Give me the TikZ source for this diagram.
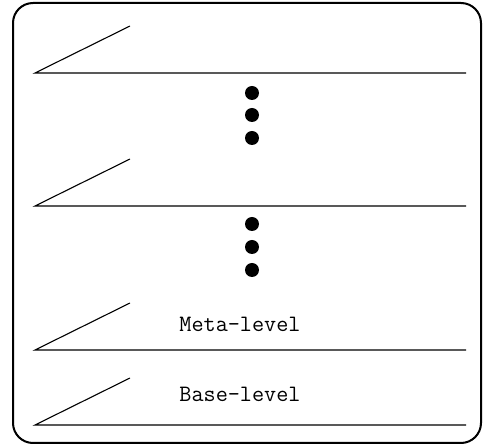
\documentclass[tikz,border=0pt]{standalone}
\begin{document}
\begin{tikzpicture}[x=1pt,y=-1pt,
  frame/.style={line width=2pt,rounded corners=20pt},
  level/.style={line width=1.1pt},
  dotmark/.style={circle,fill=black,inner sep=0pt,minimum size=14pt},
  lbl/.style={font=\ttfamily\fontsize{23.5}{28}\selectfont,inner sep=0pt}]
\useasboundingbox (0,0) rectangle (483,446);
\draw[frame] (13,3) rectangle (481,443);
% levels
\foreach \n/\y in {a/73,b/206,c/350,d/425}{
  \coordinate (\n L) at (35,\y);
  \coordinate (\n R) at (466,\y);
  \coordinate (\n T) at (130,\y-47);
  \draw[level] (\n T) -- (\n L) -- (\n R);
}
% dots
\foreach \i/\y in {1/93,2/115,3/138,4/224,5/247,6/270}{
  \node[dotmark] (dot\i) at (252,\y) {};
}
\node[lbl] (meta) at (240,324) {Meta-level};
\node[lbl] (base) at (240,394) {Base-level};
\end{tikzpicture}
\end{document}
